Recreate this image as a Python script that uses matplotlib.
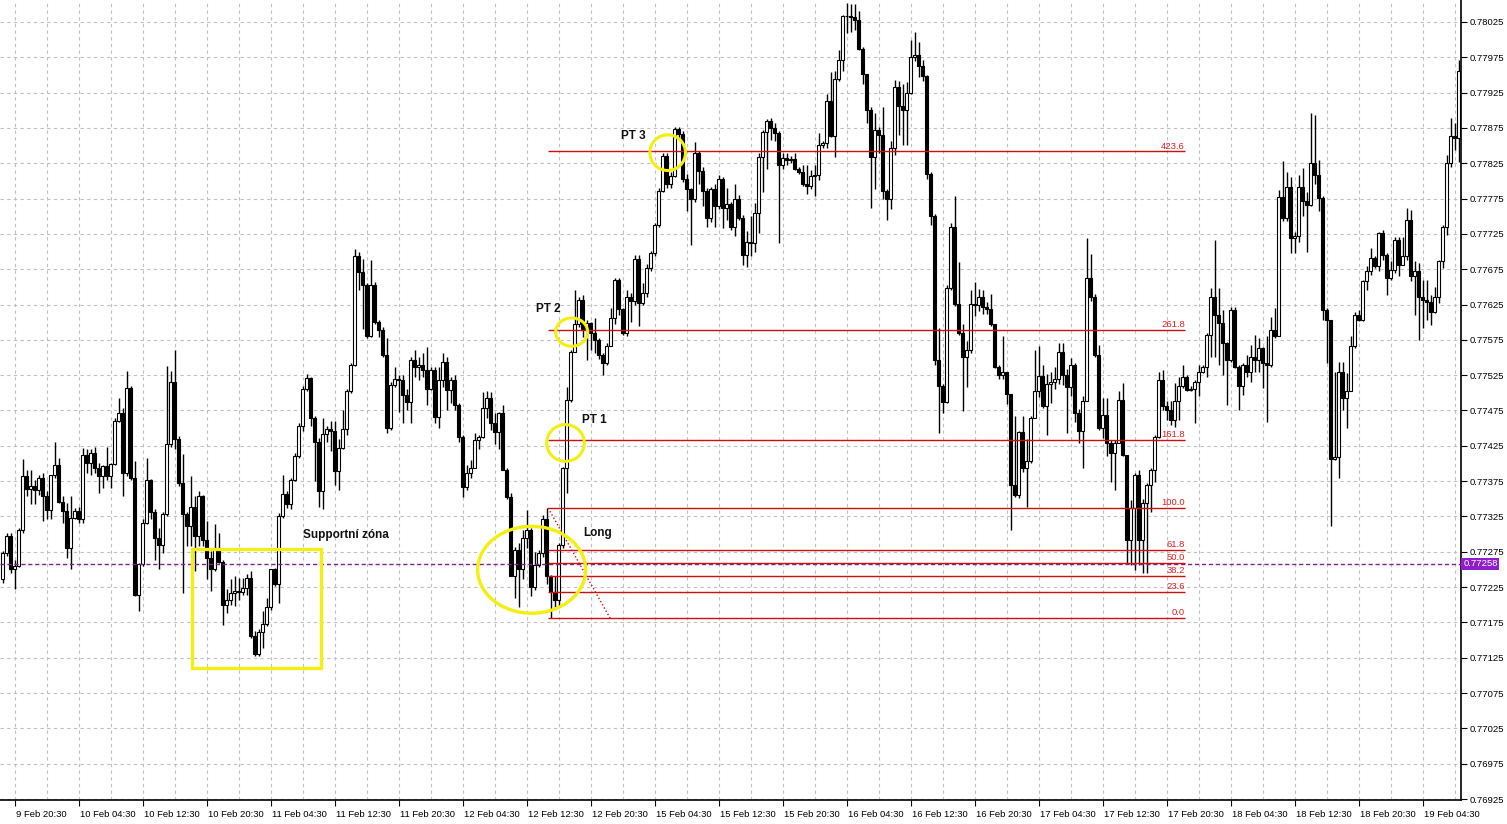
import matplotlib
matplotlib.use("Agg")
import matplotlib.pyplot as plt
import matplotlib.transforms as mtransforms
from matplotlib.patches import Rectangle, Ellipse
import numpy as np

plt.rcParams['font.family'] = ['Liberation Sans', 'DejaVu Sans']

# M30 candles, prices in points (0.00001)
opens = [
    77236, 77273, 77297, 77251, 77255, 77306, 77382, 77364, 77368, 77362,
    77380, 77354, 77334, 77383, 77398, 77345, 77333, 77281, 77323, 77333,
    77322, 77412, 77401, 77415, 77394, 77382, 77396, 77382, 77399, 77460,
    77472, 77387, 77507, 77380, 77214, 77257, 77316, 77377, 77332, 77295,
    77285, 77328, 77427, 77516, 77434, 77373, 77328, 77311, 77339, 77297,
    77354, 77292, 77266, 77251, 77281, 77260, 77200, 77207, 77217, 77219,
    77218, 77224, 77238, 77156, 77130, 77161, 77173, 77197, 77250, 77229,
    77325, 77357, 77342, 77377, 77410, 77453, 77506, 77521, 77464, 77431,
    77361, 77442, 77449, 77446, 77389, 77422, 77449, 77502, 77540, 77693,
    77671, 77653, 77581, 77652, 77600, 77589, 77553, 77450, 77511, 77519,
    77518, 77497, 77487, 77546, 77537, 77539, 77532, 77506, 77532, 77466,
    77518, 77543, 77504, 77518, 77483, 77438, 77367, 77386, 77394, 77433,
    77438, 77478, 77493, 77457, 77445, 77471, 77391, 77353, 77240, 77278,
    77250, 77294, 77306, 77225, 77256, 77273, 77321, 77240, 77218, 77207,
    77284, 77393, 77490, 77558, 77598, 77631, 77591, 77599, 77585, 77575,
    77554, 77542, 77566, 77606, 77660, 77618, 77585, 77635, 77630, 77689,
    77627, 77642, 77677, 77698, 77737, 77786, 77835, 77795, 77807, 77873,
    77866, 77802, 77788, 77774, 77840, 77814, 77786, 77748, 77788, 77765,
    77803, 77762, 77768, 77735, 77775, 77748, 77695, 77713, 77712, 77754,
    77834, 77869, 77885, 77875, 77868, 77823, 77833, 77829, 77831, 77817,
    77813, 77796, 77793, 77807, 77809, 77851, 77853, 77913, 77863, 77944,
    77971, 78033, 78034, 78032, 78028, 77987, 77952, 77901, 77834, 77872,
    77865, 77786, 77774, 77846, 77933, 77906, 77900, 77924, 77975, 77978,
    77963, 77949, 77810, 77751, 77546, 77510, 77487, 77649, 77735, 77626,
    77585, 77551, 77561, 77626, 77625, 77635, 77622, 77618, 77597, 77537,
    77525, 77530, 77499, 77369, 77355, 77444, 77393, 77403, 77465, 77503,
    77524, 77482, 77513, 77515, 77520, 77558, 77525, 77508, 77539, 77472,
    77446, 77489, 77662, 77635, 77554, 77450, 77469, 77429, 77415, 77429,
    77490, 77412, 77292, 77337, 77384, 77292, 77344, 77370, 77391, 77438,
    77518, 77482, 77476, 77462, 77488, 77509, 77522, 77504, 77506, 77516,
    77530, 77537, 77582, 77636, 77610, 77599, 77570, 77547, 77617, 77537,
    77509, 77540, 77530, 77551, 77547, 77563, 77542, 77540, 77589, 77580,
    77777, 77747, 77792, 77719, 77722, 77792, 77771, 77766, 77825, 77809,
    77776, 77617, 77603, 77407, 77409, 77530, 77492, 77502, 77566, 77610,
    77603, 77658, 77672, 77691, 77679, 77726, 77695, 77662, 77674, 77717,
    77681, 77693, 77745, 77665, 77673, 77636, 77632, 77629, 77615, 77636,
    77686, 77735, 77825, 77863, 77861,
]
highs = [
    77276, 77301, 77302, 77264, 77308, 77406, 77391, 77391, 77377, 77384,
    77387, 77361, 77384, 77431, 77408, 77354, 77344, 77354, 77337, 77339,
    77422, 77420, 77420, 77424, 77401, 77398, 77424, 77401, 77464, 77493,
    77479, 77531, 77509, 77403, 77259, 77321, 77408, 77378, 77335, 77309,
    77332, 77538, 77531, 77561, 77439, 77413, 77332, 77382, 77354, 77361,
    77356, 77318, 77276, 77314, 77302, 77264, 77223, 77236, 77240, 77238,
    77238, 77243, 77248, 77163, 77165, 77191, 77210, 77251, 77252, 77330,
    77384, 77361, 77380, 77415, 77457, 77509, 77526, 77523, 77467, 77436,
    77464, 77453, 77460, 77460, 77434, 77476, 77505, 77542, 77703, 77700,
    77689, 77656, 77688, 77657, 77603, 77593, 77577, 77516, 77537, 77525,
    77525, 77506, 77551, 77560, 77551, 77556, 77565, 77537, 77537, 77537,
    77556, 77551, 77523, 77525, 77485, 77440, 77398, 77405, 77443, 77440,
    77501, 77503, 77501, 77471, 77473, 77483, 77393, 77358, 77282, 77287,
    77306, 77334, 77308, 77275, 77277, 77327, 77337, 77242, 77240, 77287,
    77395, 77508, 77561, 77645, 77636, 77638, 77603, 77600, 77606, 77577,
    77557, 77570, 77620, 77663, 77663, 77620, 77645, 77642, 77695, 77695,
    77655, 77683, 77701, 77740, 77790, 77839, 77840, 77812, 77877, 77877,
    77870, 77810, 77790, 77855, 77842, 77820, 77790, 77792, 77795, 77808,
    77805, 77790, 77770, 77796, 77780, 77752, 77729, 77750, 77769, 77839,
    77872, 77887, 77889, 77882, 77870, 77839, 77839, 77835, 77839, 77820,
    77822, 77822, 77815, 77822, 77868, 77856, 77923, 77954, 77956, 77985,
    78035, 78052, 78050, 78050, 78040, 77990, 77952, 77904, 77896, 77877,
    77904, 77789, 77856, 77943, 77942, 77937, 77940, 78000, 78011, 77997,
    77971, 77950, 77812, 77753, 77592, 77513, 77652, 77741, 77779, 77685,
    77597, 77573, 77645, 77657, 77647, 77646, 77628, 77640, 77598, 77539,
    77580, 77530, 77499, 77467, 77446, 77467, 77434, 77467, 77561, 77566,
    77539, 77527, 77530, 77536, 77570, 77570, 77534, 77549, 77542, 77477,
    77496, 77719, 77697, 77640, 77568, 77492, 77492, 77433, 77433, 77502,
    77514, 77412, 77348, 77386, 77391, 77349, 77372, 77393, 77440, 77530,
    77533, 77488, 77488, 77514, 77523, 77540, 77525, 77510, 77518, 77540,
    77540, 77584, 77648, 77717, 77648, 77617, 77572, 77622, 77622, 77540,
    77542, 77554, 77568, 77582, 77577, 77565, 77580, 77608, 77620, 77787,
    77828, 77813, 77806, 77728, 77809, 77818, 77785, 77896, 77894, 77830,
    77778, 77620, 77603, 77530, 77544, 77544, 77528, 77580, 77615, 77617,
    77660, 77679, 77705, 77693, 77728, 77731, 77698, 77686, 77721, 77721,
    77721, 77761, 77759, 77686, 77684, 77660, 77660, 77639, 77650, 77688,
    77738, 77837, 77889, 77882, 77971,
]
lows = [
    77231, 77269, 77245, 77222, 77254, 77302, 77354, 77342, 77342, 77356,
    77318, 77322, 77321, 77380, 77344, 77316, 77266, 77250, 77321, 77316,
    77316, 77387, 77384, 77387, 77358, 77365, 77377, 77365, 77398, 77458,
    77354, 77382, 77377, 77212, 77191, 77255, 77314, 77321, 77264, 77250,
    77273, 77325, 77424, 77420, 77368, 77217, 77283, 77283, 77248, 77283,
    77283, 77236, 77219, 77248, 77259, 77172, 77189, 77200, 77198, 77207,
    77214, 77214, 77153, 77127, 77127, 77139, 77170, 77193, 77226, 77203,
    77323, 77337, 77335, 77375, 77408, 77446, 77502, 77453, 77375, 77339,
    77335, 77431, 77417, 77370, 77363, 77420, 77441, 77500, 77538, 77646,
    77590, 77578, 77579, 77598, 77579, 77551, 77443, 77447, 77508, 77473,
    77457, 77475, 77457, 77523, 77518, 77523, 77483, 77504, 77457, 77450,
    77508, 77475, 77485, 77475, 77431, 77353, 77362, 77379, 77393, 77421,
    77436, 77464, 77447, 77428, 77421, 77391, 77350, 77240, 77209, 77197,
    77237, 77280, 77213, 77221, 77254, 77268, 77230, 77181, 77195, 77197,
    77280, 77358, 77487, 77558, 77593, 77579, 77547, 77560, 77557, 77548,
    77525, 77540, 77566, 77598, 77610, 77582, 77580, 77600, 77625, 77595,
    77625, 77635, 77672, 77694, 77735, 77784, 77790, 77790, 77805, 77860,
    77798, 77757, 77709, 77770, 77795, 77765, 77735, 77742, 77735, 77760,
    77733, 77745, 77730, 77722, 77745, 77681, 77678, 77693, 77700, 77726,
    77784, 77817, 77858, 77856, 77712, 77817, 77822, 77825, 77815, 77810,
    77793, 77781, 77789, 77779, 77801, 77846, 77846, 77862, 77834, 77942,
    77956, 78009, 78011, 78014, 77985, 77937, 77882, 77762, 77789, 77839,
    77774, 77745, 77760, 77836, 77865, 77851, 77851, 77923, 77970, 77947,
    77942, 77803, 77738, 77539, 77443, 77472, 77486, 77645, 77623, 77582,
    77474, 77508, 77556, 77609, 77616, 77611, 77611, 77594, 77535, 77520,
    77520, 77484, 77306, 77353, 77351, 77388, 77338, 77400, 77464, 77494,
    77479, 77441, 77485, 77506, 77513, 77511, 77443, 77496, 77458, 77429,
    77393, 77489, 77630, 77551, 77448, 77436, 77410, 77374, 77363, 77429,
    77410, 77259, 77256, 77249, 77256, 77245, 77245, 77332, 77374, 77436,
    77476, 77462, 77455, 77452, 77462, 77507, 77502, 77502, 77457, 77495,
    77528, 77523, 77551, 77551, 77540, 77525, 77483, 77544, 77535, 77476,
    77497, 77523, 77516, 77530, 77530, 77507, 77459, 77537, 77577, 77580,
    77743, 77743, 77698, 77698, 77714, 77750, 77700, 77764, 77795, 77757,
    77603, 77542, 77311, 77405, 77379, 77476, 77450, 77502, 77563, 77601,
    77601, 77646, 77667, 77677, 77672, 77688, 77639, 77660, 77669, 77665,
    77681, 77688, 77658, 77610, 77575, 77592, 77603, 77596, 77613, 77627,
    77677, 77724, 77820, 77844, 77827,
]
closes = [
    77273, 77297, 77251, 77255, 77306, 77382, 77364, 77368, 77362, 77380,
    77354, 77334, 77383, 77398, 77345, 77333, 77281, 77323, 77333, 77322,
    77412, 77401, 77415, 77394, 77382, 77396, 77382, 77399, 77460, 77472,
    77387, 77507, 77380, 77214, 77257, 77316, 77377, 77332, 77295, 77285,
    77328, 77427, 77516, 77434, 77373, 77328, 77311, 77339, 77297, 77354,
    77292, 77266, 77251, 77281, 77260, 77200, 77207, 77217, 77219, 77218,
    77224, 77238, 77156, 77130, 77161, 77173, 77197, 77250, 77229, 77325,
    77357, 77342, 77377, 77410, 77453, 77506, 77521, 77464, 77431, 77361,
    77442, 77449, 77446, 77389, 77422, 77449, 77502, 77540, 77693, 77671,
    77653, 77581, 77652, 77600, 77589, 77553, 77450, 77511, 77519, 77518,
    77497, 77487, 77546, 77537, 77539, 77532, 77506, 77532, 77466, 77518,
    77543, 77504, 77518, 77483, 77438, 77367, 77386, 77394, 77433, 77438,
    77478, 77493, 77457, 77445, 77471, 77391, 77353, 77240, 77278, 77250,
    77294, 77306, 77225, 77256, 77273, 77321, 77240, 77218, 77207, 77284,
    77393, 77490, 77558, 77598, 77631, 77591, 77599, 77585, 77575, 77554,
    77542, 77566, 77606, 77660, 77618, 77585, 77635, 77630, 77689, 77627,
    77642, 77677, 77698, 77737, 77786, 77835, 77795, 77807, 77873, 77866,
    77802, 77788, 77774, 77840, 77814, 77786, 77748, 77788, 77765, 77803,
    77762, 77768, 77735, 77775, 77748, 77695, 77713, 77712, 77754, 77834,
    77869, 77885, 77875, 77868, 77823, 77833, 77829, 77831, 77817, 77813,
    77796, 77793, 77807, 77809, 77851, 77853, 77913, 77863, 77944, 77971,
    78033, 78034, 78032, 78028, 77987, 77952, 77901, 77834, 77872, 77865,
    77786, 77774, 77846, 77933, 77906, 77900, 77924, 77975, 77978, 77963,
    77949, 77810, 77751, 77546, 77510, 77487, 77649, 77735, 77626, 77585,
    77551, 77561, 77626, 77625, 77635, 77622, 77618, 77597, 77537, 77525,
    77530, 77499, 77369, 77355, 77444, 77393, 77403, 77465, 77503, 77524,
    77482, 77513, 77515, 77520, 77558, 77525, 77508, 77539, 77472, 77446,
    77489, 77662, 77635, 77554, 77450, 77469, 77429, 77415, 77429, 77490,
    77412, 77292, 77337, 77384, 77292, 77344, 77370, 77391, 77438, 77518,
    77482, 77476, 77462, 77488, 77509, 77522, 77504, 77506, 77516, 77530,
    77537, 77582, 77636, 77610, 77599, 77570, 77547, 77617, 77537, 77509,
    77540, 77530, 77551, 77547, 77563, 77542, 77540, 77589, 77580, 77777,
    77747, 77792, 77719, 77722, 77792, 77771, 77766, 77825, 77809, 77776,
    77617, 77603, 77407, 77409, 77530, 77492, 77502, 77566, 77610, 77603,
    77658, 77672, 77691, 77679, 77726, 77695, 77662, 77674, 77717, 77681,
    77693, 77745, 77665, 77673, 77636, 77632, 77629, 77615, 77636, 77686,
    77735, 77825, 77863, 77861, 77956,
]

time_labels = ['9 Feb 20:30', '10 Feb 04:30', '10 Feb 12:30', '10 Feb 20:30',
               '11 Feb 04:30', '11 Feb 12:30', '11 Feb 20:30', '12 Feb 04:30',
               '12 Feb 12:30', '12 Feb 20:30', '15 Feb 04:30', '15 Feb 12:30',
               '15 Feb 20:30', '16 Feb 04:30', '16 Feb 12:30', '16 Feb 20:30',
               '17 Feb 04:30', '17 Feb 12:30', '17 Feb 20:30', '18 Feb 04:30',
               '18 Feb 12:30', '18 Feb 20:30', '19 Feb 04:30']
price_ticks = [0.76925, 0.76975, 0.77025, 0.77075, 0.77125, 0.77175, 0.77225,
               0.77275, 0.77325, 0.77375, 0.77425, 0.77475, 0.77525, 0.77575,
               0.77625, 0.77675, 0.77725, 0.77775, 0.77825, 0.77875, 0.77925,
               0.77975, 0.78025]
fib_levels = [0.0, 23.6, 38.2, 50.0, 61.8, 100.0, 161.8, 261.8, 423.6]
fib_low = 0.77181
fib_high = 0.77337
bid = 0.77258

o = np.array(opens) / 1e5
h = np.array(highs) / 1e5
l = np.array(lows) / 1e5
c = np.array(closes) / 1e5
x = np.arange(len(c))

fig = plt.figure(figsize=(15.07, 8.24), dpi=100)
ax = fig.add_axes([0, 24 / 824, 1461 / 1507, 800 / 824])
ax.set_xlim(-0.625, 364.625)
ax.set_ylim(0.769236, 0.780561)

grid_kw = dict(color='#c0c0c0', linestyle=(0, (3, 3)), linewidth=0.8, zorder=0)
for gx in range(3, len(c), 8):
    ax.axvline(gx, **grid_kw)
for p in price_ticks:
    ax.axhline(p, **grid_kw)

# candles
ax.vlines(x, np.minimum(l, np.minimum(o, c)), np.maximum(h, np.maximum(o, c)),
          color='black', linewidth=1, zorder=3)
up = c >= o
ax.bar(x, c - o, bottom=o, width=0.62, color=np.where(up, 'white', 'black'),
       edgecolor='black', linewidth=0.8, zorder=4)

# bid line
ax.axhline(bid, color='#80208f', linestyle=(0, (3, 2)), linewidth=1, zorder=5)
trans = mtransforms.blended_transform_factory(ax.transAxes, ax.transData)
ax.text(1.0015, bid, f'{bid:.5f}', transform=trans, color='white', fontsize=6.8,
        va='center', ha='left', clip_on=False, zorder=10,
        bbox=dict(boxstyle='square,pad=0.18', fc='#8f1dc9', ec='none'))

# fibonacci
fx0, fx1 = 136.4, 295.6
for lvl in fib_levels:
    p = fib_low + (fib_high - fib_low) * lvl / 100
    ax.hlines(p, fx0, fx1, color='#cc1010', linewidth=1, zorder=6)
    ax.text(fx1, p + 0.00001, f'{lvl:.1f}', ha='right', va='bottom',
            color='#e02020', fontsize=6.8, zorder=6)
ax.plot([fx0, 151.9], [fib_high, fib_low], color='#cc1010', linestyle=':',
        linewidth=1, zorder=6)

# annotations
yel = '#f3ef10'
ax.add_patch(Rectangle((47.4, 0.77111), 32.2, 0.00168, fill=False,
                       edgecolor=yel, linewidth=2.4, zorder=7))
ax.add_patch(Ellipse((132.3, 0.772495), 27, 0.00123, fill=False,
                     edgecolor=yel, linewidth=2.4, zorder=7))
for cx, cy, w, hh in [(140.75, 0.77429, 9.4, 0.00052),
                      (142.3, 0.77586, 8.0, 0.00040),
                      (166.3, 0.77840, 8.9, 0.000505)]:
    ax.add_patch(Ellipse((cx, cy), w, hh, fill=False, edgecolor=yel,
                         linewidth=2.2, zorder=7))

txt_kw = dict(fontsize=8.5, fontweight='bold', color='#111111', va='center',
              ha='left', zorder=8)
ax.text(75.1, 0.77299, 'Supportní zóna', **txt_kw)
ax.text(145.1, 0.77302, 'Long', **txt_kw)
ax.text(144.9, 0.77462, 'PT 1', **txt_kw)
ax.text(133.4, 0.77618, 'PT 2', **txt_kw)
ax.text(154.6, 0.77864, 'PT 3', **txt_kw)

# axes
ax.set_xticks(range(3, len(c), 16))
ax.set_xticklabels(time_labels)
ax.set_yticks(price_ticks)
ax.set_yticklabels([f'{p:.5f}' for p in price_ticks])
ax.yaxis.tick_right()
ax.tick_params(axis='y', right=True, left=False, labelright=True,
               labelleft=False, length=4, pad=2, labelsize=6.8, width=0.8)
ax.tick_params(axis='x', length=4, pad=3, labelsize=6.8, width=0.8)
offset = mtransforms.ScaledTranslation(2 / 100, 0, fig.dpi_scale_trans)
for lab in ax.get_xticklabels():
    lab.set_ha('left')
    lab.set_transform(lab.get_transform() + offset)
for side in ['top', 'left']:
    ax.spines[side].set_visible(False)
for side in ['right', 'bottom']:
    ax.spines[side].set_linewidth(1.2)

fig.savefig('out.png', dpi=100)
